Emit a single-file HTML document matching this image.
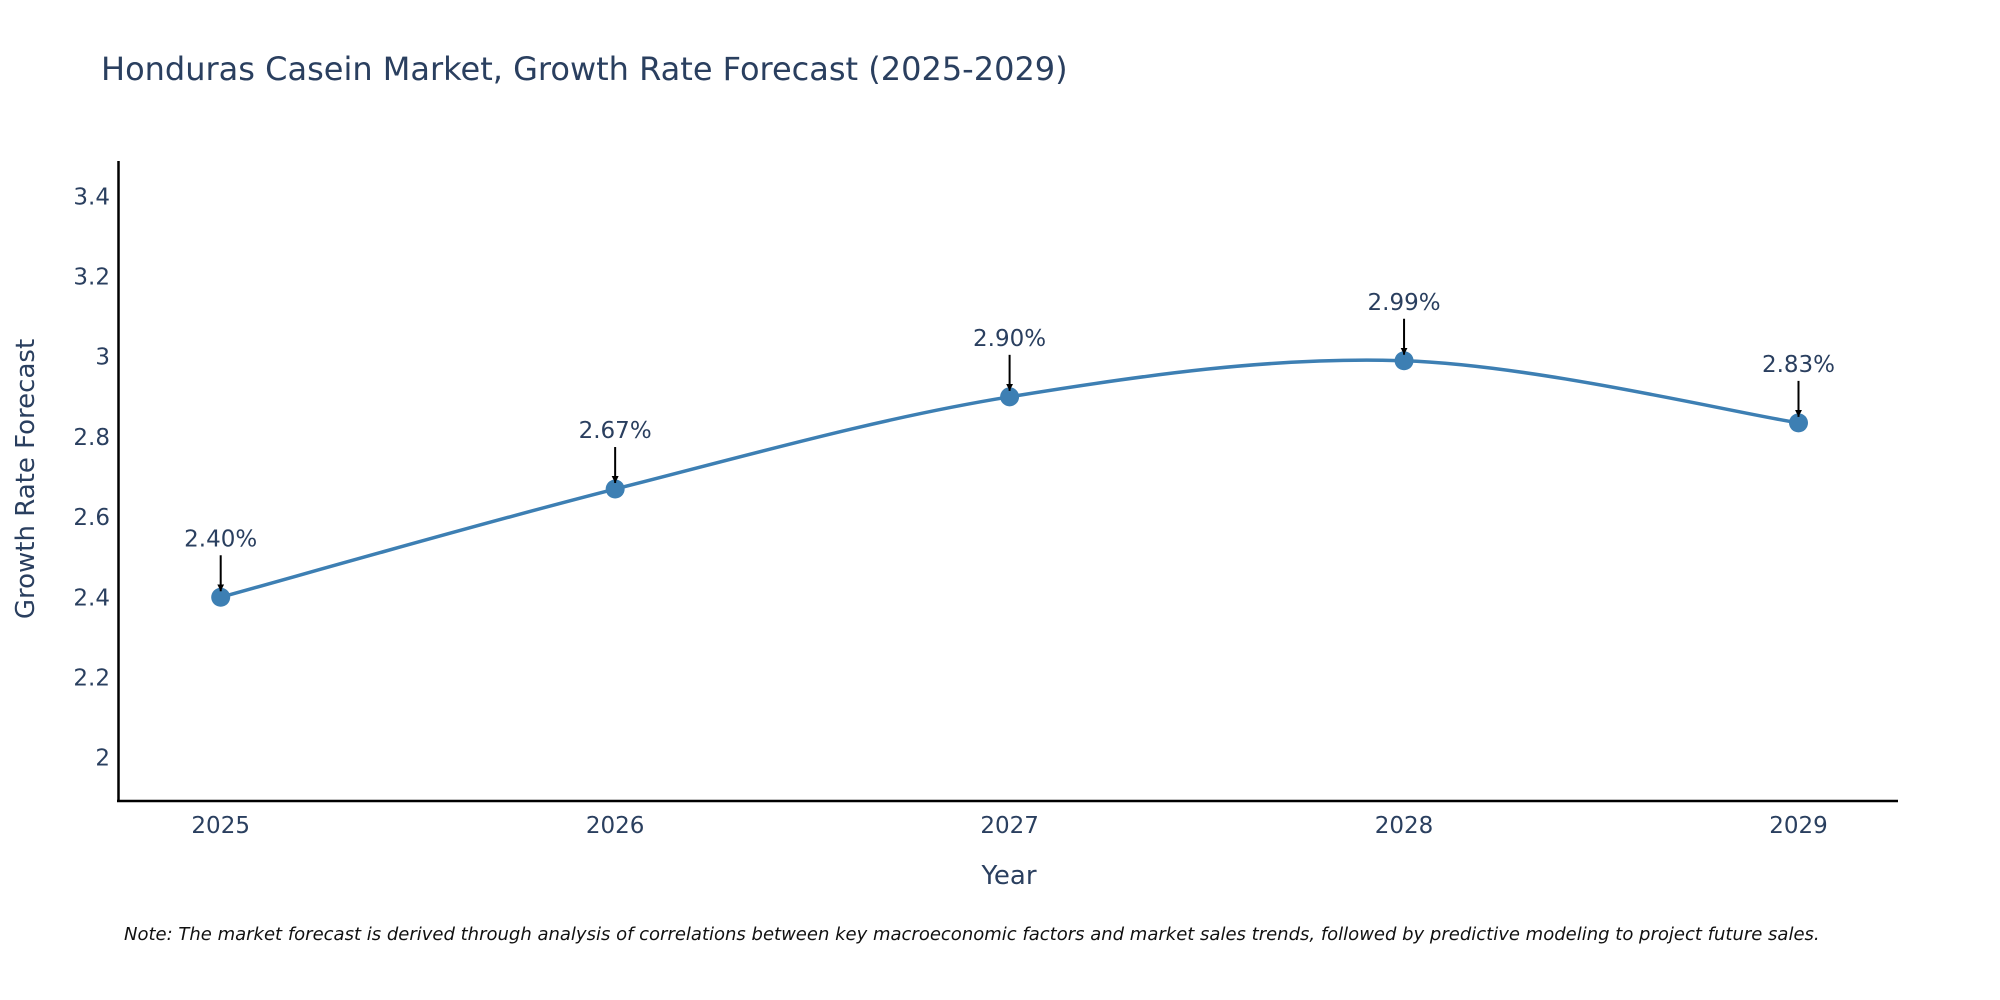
<!DOCTYPE html>
<html><head><meta charset="utf-8"><style>
body{margin:0;background:#fff}
svg{display:block;font-family:"DejaVu Sans","Liberation Sans",sans-serif}
</style></head><body>
<svg id="chart" width="2000" height="1000" viewBox="0 0 2000 1000">
<defs><marker id="ah" viewBox="0 0 10 10" refX="10" refY="5" markerWidth="7" markerHeight="7" markerUnits="userSpaceOnUse" orient="auto"><path d="M0,0L10,5L0,10z" fill="#000"/></marker></defs>
<text x="101" y="80" font-size="32" fill="#2a3f5f">Honduras Casein Market, Growth Rate Forecast (2025-2029)</text>
<g id="yticks"></g><g id="xticks"></g>
<line x1="118.5" y1="161" x2="118.5" y2="802" stroke="#000" stroke-width="2.5"/>
<line x1="117" y1="801" x2="1898" y2="801" stroke="#000" stroke-width="2.5"/>
<text transform="translate(34,479) rotate(-90)" text-anchor="middle" font-size="26" fill="#2a3f5f">Growth Rate Forecast</text>
<text x="1009" y="884" text-anchor="middle" font-size="26" fill="#2a3f5f">Year</text>
<g id="series"></g>
<text x="124" y="940" font-size="18" font-style="italic" fill="#111">Note: The market forecast is derived through analysis of correlations between key macroeconomic factors and market sales trends, followed by predictive modeling to project future sales.</text>
</svg>
<script>
const years=[2025,2026,2027,2028,2029];
const values=[2.40,2.67,2.90,2.99,2.835];
const labels=["2.40%","2.67%","2.90%","2.99%","2.83%"];
const yTickVals=[2,2.2,2.4,2.6,2.8,3,3.2,3.4];
const yTickLabels=["2","2.2","2.4","2.6","2.8","3","3.2","3.4"];
const NS="http://www.w3.org/2000/svg";
const xs=y=>220.7+(y-2025)*(1798.5-220.7)/4;
const ys=v=>757.6-(v-2)*(757.6-196.4)/1.4;
function mk(tag,attrs,parent,txt){const e=document.createElementNS(NS,tag);for(const k in attrs)e.setAttribute(k,attrs[k]);if(txt!==undefined)e.textContent=txt;parent.appendChild(e);return e;}
const yt=document.getElementById('yticks');
yTickVals.forEach((v,i)=>{const t=mk('text',{x:110,y:ys(v)+8,'text-anchor':'end','font-size':23,fill:'#2a3f5f'},yt,yTickLabels[i]);

});
const xt=document.getElementById('xticks');
years.forEach(y=>{const t=mk('text',{x:xs(y),y:833,'text-anchor':'middle','font-size':23,fill:'#2a3f5f'},xt,String(y));

});
const g=document.getElementById('series');
const P=years.map((y,i)=>[xs(y),ys(values[i])]);
let d=`M${P[0][0]},${P[0][1]}`;const s=1/6;
for(let i=0;i<P.length-1;i++){const p0=P[Math.max(i-1,0)],p1=P[i],p2=P[i+1],p3=P[Math.min(i+2,P.length-1)];
d+=` C${p1[0]+(p2[0]-p0[0])*s},${p1[1]+(p2[1]-p0[1])*s} ${p2[0]-(p3[0]-p1[0])*s},${p2[1]-(p3[1]-p1[1])*s} ${p2[0]},${p2[1]}`;}
const line=mk('path',{d:d,fill:'none',stroke:'#3d7fb3','stroke-width':3.5},g);


P.forEach((p,i)=>{
const c=mk('circle',{cx:p[0],cy:p[1],r:9.5,fill:'#3d7fb3'},g);


const a=mk('line',{x1:p[0],y1:p[1]-42,x2:p[0],y2:p[1]-6,stroke:'#000','stroke-width':2,'marker-end':'url(#ah)'},g);


const t=mk('text',{x:p[0],y:p[1]-51,'text-anchor':'middle','font-size':23,fill:'#2a3f5f'},g,labels[i]);


});
</script>
</body></html>
